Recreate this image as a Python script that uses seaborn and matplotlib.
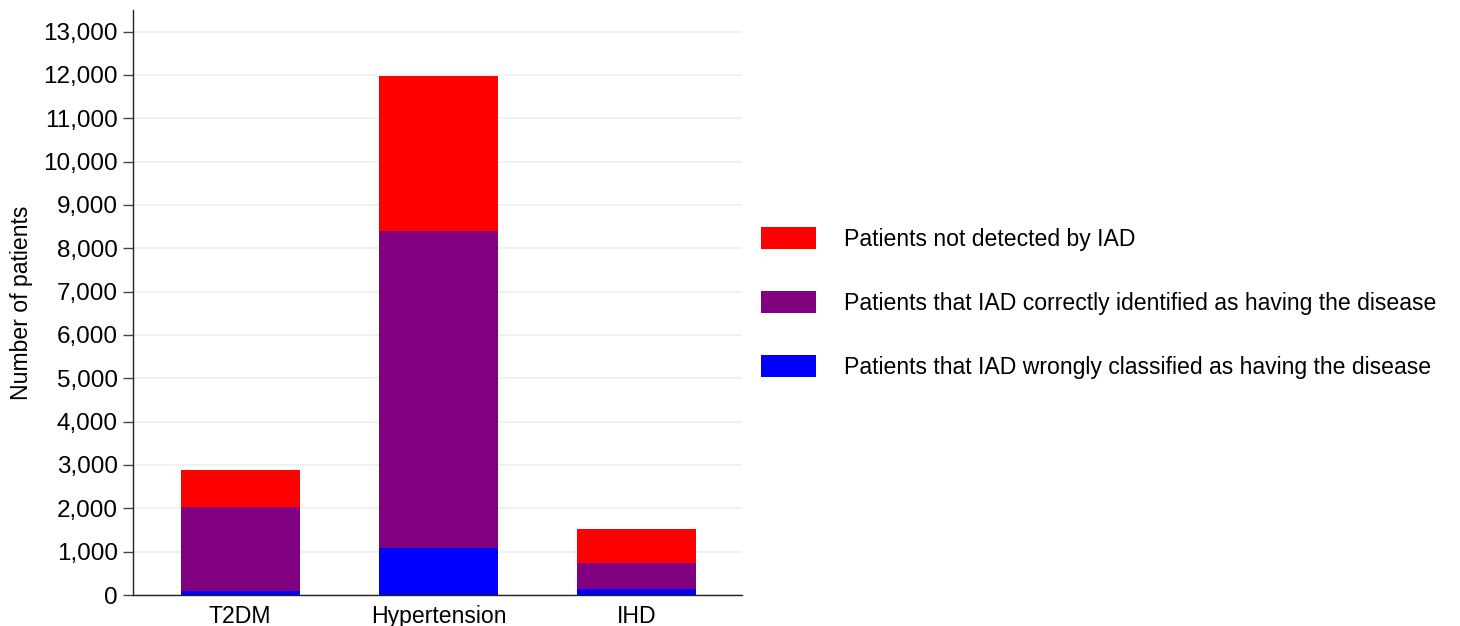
import matplotlib
matplotlib.use("Agg")
import matplotlib.pyplot as plt
import seaborn as sns
import pandas as pd
from matplotlib.patches import Patch
from matplotlib.ticker import FuncFormatter

categories = ["T2DM", "Hypertension", "IHD"]
wrong = [90, 1090, 130]
correct = [1940, 7300, 620]
not_detected = [850, 3590, 780]
series_labels = [
    "Patients not detected by IAD",
    "Patients that IAD correctly identified as having the disease",
    "Patients that IAD wrongly classified as having the disease",
]
colors = ["#ff0000", "#800080", "#0000ff"]

df = pd.DataFrame({"cat": categories, "wrong": wrong, "correct": correct, "nd": not_detected})
df["b2"] = df["wrong"]
df["b3"] = df["wrong"] + df["correct"]

sns.set_theme(style="white")
plt.rcParams["font.family"] = ["Liberation Sans", "DejaVu Sans"]
plt.rcParams["text.color"] = "black"
plt.rcParams["axes.labelcolor"] = "black"
plt.rcParams["xtick.color"] = "black"
plt.rcParams["ytick.color"] = "black"

fig = plt.figure(figsize=(14.6, 6.26), dpi=100)
ax = fig.add_axes([133/1460, 31/626, 609/1460, 585/626])

sns.barplot(data=df, x="cat", y="wrong", color=colors[2], width=0.6, ax=ax, saturation=1, linewidth=0)
sns.barplot(data=df, x="cat", y="correct", bottom=df["b2"], color=colors[1], width=0.6, ax=ax, saturation=1, linewidth=0)
sns.barplot(data=df, x="cat", y="nd", bottom=df["b3"], color=colors[0], width=0.6, ax=ax, saturation=1, linewidth=0)

ax.set_ylim(0, 13500)
ax.set_xlim(-0.54, 2.53)
ax.set_yticks(range(0, 13001, 1000))
ax.yaxis.set_major_formatter(FuncFormatter(lambda v, p: f"{int(v):,}"))
ax.grid(axis="y", color="#edf1f2", linewidth=1.3)
ax.set_axisbelow(True)
for s in ["top", "right"]:
    ax.spines[s].set_visible(False)
for s in ["left", "bottom"]:
    ax.spines[s].set_color("#222222")
    ax.spines[s].set_linewidth(1.0)
ax.tick_params(axis="y", which="major", left=True, length=7, width=1, color="#444444", labelsize=17.5, pad=4)
ax.tick_params(axis="x", bottom=False, labelsize=16.6, pad=1)
ax.set_xlabel("")
ax.set_ylabel("Number of patients", fontsize=16.6, labelpad=7)

handles = [Patch(facecolor=c, edgecolor="none") for c in colors]
fig.legend(handles, series_labels, loc="upper left", bbox_to_anchor=(761/1460, 1 - 227/626),
           frameon=False, fontsize=16.6, handlelength=2.4, handleheight=1.09,
           handletextpad=1.18, labelspacing=1.74, borderpad=0, borderaxespad=0)

fig.savefig("out.png", dpi=100)
